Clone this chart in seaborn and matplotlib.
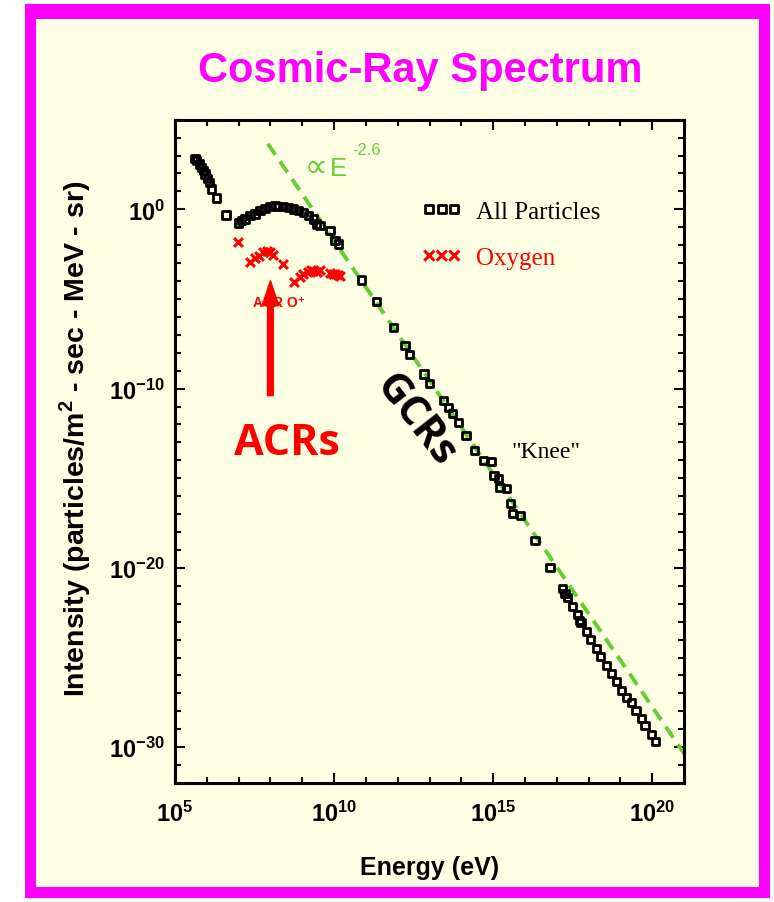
import numpy as np
import matplotlib
matplotlib.use("Agg")
import matplotlib.pyplot as plt
from matplotlib.patches import Rectangle
from matplotlib.ticker import FuncFormatter, NullFormatter
import seaborn as sns

# ---- data (log10 energy in eV, log10 intensity) ----
all_log_e = [5.629, 5.682, 5.764, 5.839, 5.890, 5.943, 6.015, 6.078, 6.154, 6.311,
             6.603,
             6.990, 7.097, 7.201, 7.358, 7.515, 7.672, 7.829, 7.986, 8.144, 8.247,
             8.405, 8.562, 8.719, 8.876, 9.033, 9.191, 9.348, 9.455, 9.558, 9.873,
             10.030, 10.134,
             10.869, 11.341, 11.863, 12.231, 12.366, 12.828, 12.995, 13.435, 13.592,
             13.730, 13.906, 14.148, 14.409, 14.692, 14.956, 15.028, 15.164, 15.217,
             15.428, 15.553, 15.616, 15.858, 16.317, 16.789, 17.188, 17.260, 17.333,
             17.502, 17.660, 17.710, 17.763, 17.943, 18.068, 18.257, 18.383, 18.571,
             18.729, 18.886, 19.043, 19.200, 19.357, 19.492, 19.671, 19.775, 19.986,
             20.105]
all_log_i = [2.847, 2.713, 2.529, 2.345, 2.156, 1.972, 1.732, 1.509, 1.135, 0.633,
             -0.315,
             -0.761, -0.633, -0.538, -0.354, -0.259, -0.075, 0.059, 0.170, 0.204, 0.170,
             0.170, 0.114, 0.020, -0.075, -0.164, -0.354, -0.538, -0.817, -0.912, -1.191,
             -1.748, -1.932,
             -3.940, -5.128, -6.578, -7.605, -8.095, -9.183, -9.702, -10.672, -11.040,
             -11.414, -11.877, -12.624, -13.461, -14.018, -14.074, -14.855, -15.039, -15.502,
             -15.580, -16.433, -16.991, -17.058, -18.480, -19.964, -21.174, -21.453, -21.637,
             -22.139, -22.624, -22.942, -23.031, -23.556, -24.002, -24.520, -24.950, -25.452,
             -25.915, -26.344, -26.846, -27.214, -27.532, -27.962, -28.386, -28.798, -29.317,
             -29.708]

oxy_log_e = [6.990, 7.358, 7.515, 7.650, 7.766, 7.883, 7.986, 8.090, 8.405, 8.741,
             8.930, 9.033, 9.191, 9.275, 9.348, 9.455, 9.558, 9.873, 9.967, 10.030,
             10.124, 10.187]
oxy_log_i = [-1.804, -2.953, -2.713, -2.585, -2.379, -2.306, -2.379, -2.529, -3.031, -4.068,
             -3.773, -3.606, -3.511, -3.410, -3.422, -3.477, -3.410, -3.550, -3.606, -3.606,
             -3.662, -3.700]

# power-law guide  I = 10**norm * E**slope
fit_slope = -2.6
fit_norm = 24.25
fit_log_e = [7.92, 21.5]

x_major = [5, 10, 15, 20]
y_major = [0, -10, -20, -30]

MAGENTA = "#FF00FF"
CREAM = "#FFFFE4"
GREEN = "#66CC33"

plt.rcParams["mathtext.fontset"] = "custom"
plt.rcParams["mathtext.rm"] = "Liberation Sans"
plt.rcParams["mathtext.bf"] = "Liberation Sans:bold"
plt.rcParams["font.family"] = ["Liberation Sans", "DejaVu Sans"]

W, H = 774, 903
fig = plt.figure(figsize=(W / 100, H / 100), dpi=100, facecolor="white")

# framed page
fig.patches.append(Rectangle((25 / W, 1 - 899 / H), 745 / W, 894 / H,
                             transform=fig.transFigure, facecolor=MAGENTA,
                             edgecolor="none", zorder=-10))
fig.patches.append(Rectangle((36 / W, 1 - 888 / H), 723 / W, 868 / H,
                             transform=fig.transFigure, facecolor=CREAM,
                             edgecolor="none", zorder=-9))

ax = fig.add_axes([175 / W, 1 - 784 / H, 509 / W, 663.3 / H])
ax.set_facecolor(CREAM)
ax.set_xscale("log")
ax.set_yscale("log")
ax.set_xlim(1e5, 1e21)
ax.set_ylim(1e-32, 1e5)

# E^-2.6 guide line
fe = np.array(fit_log_e)
ax.plot(10.0 ** fe, 10.0 ** (fit_norm + fit_slope * fe), color=GREEN, lw=2.8,
        dashes=(3.4, 2.1), zorder=2)

sns.scatterplot(x=10.0 ** np.array(all_log_e), y=10.0 ** np.array(all_log_i),
                marker="s", s=26, color="black", facecolor="none",
                edgecolor="black", linewidth=2.0, ax=ax, zorder=3,
                label="All Particles")
sns.scatterplot(x=10.0 ** np.array(oxy_log_e), y=10.0 ** np.array(oxy_log_i),
                marker="x", s=40, color="red", linewidth=2.2, ax=ax, zorder=3,
                label="Oxygen")

# axes styling
for sp in ax.spines.values():
    sp.set_linewidth(2.2)
    sp.set_color("black")
ax.set_xticks([10.0 ** v for v in x_major])
ax.set_xticks([10.0 ** v for v in range(5, 22)], minor=True)
ax.set_yticks([10.0 ** v for v in y_major])
ax.set_yticks([10.0 ** v for v in range(-32, 6)], minor=True)
fmt = FuncFormatter(lambda v, p: r"$\mathbf{10^{%d}}$" % round(np.log10(v)))
ax.xaxis.set_major_formatter(fmt)
ax.yaxis.set_major_formatter(fmt)
ax.xaxis.set_minor_formatter(NullFormatter())
ax.yaxis.set_minor_formatter(NullFormatter())
ax.tick_params(which="both", direction="in", top=True, right=True, width=1.5,
               color="black")
ax.tick_params(which="major", length=7.2, labelsize=17)
ax.tick_params(which="minor", length=4.3)
ax.tick_params(axis="x", pad=12.5)
ax.tick_params(axis="y", pad=7)

ax.set_xlabel("Energy (eV)", fontsize=18, fontweight="bold")
ax.set_ylabel(r"Intensity (particles/m$^\mathbf{2}$ - sec - MeV - sr)",
              fontsize=20.5, fontweight="bold")
ax.xaxis.set_label_coords(0.5, -0.1086)
ax.yaxis.set_label_coords(-0.162, 0.52)

fig.text(420 / W, 1 - 82 / H, "Cosmic-Ray Spectrum", color=MAGENTA,
         fontsize=30, fontweight="bold", ha="center", va="baseline")

# legend
handles = ax.collections[:2]
ax.legend(handles, ["All Particles", "Oxygen"], loc="upper left",
          bbox_to_anchor=(0.485, 0.878), frameon=False, scatterpoints=3,
          scatteryoffsets=[0.5], markerscale=1.15, handlelength=1.6,
          handletextpad=0.56, borderpad=0, borderaxespad=0, labelspacing=0.95,
          prop={"family": "Liberation Serif", "size": 18},
          labelcolor=["black", "red"])

# power-law label
ax.text(10 ** 9.087, 10 ** 1.85, "\u221d", color=GREEN, fontsize=23,
        ha="left", va="baseline", family="DejaVu Sans")
ax.text(10 ** 9.873, 10 ** 1.916, "E", color=GREEN, fontsize=18.5,
        ha="left", va="baseline")
ax.text(10 ** 10.58, 10 ** 3.087, "-2.6", color=GREEN, fontsize=12,
        ha="left", va="baseline")

# anomalous / galactic component labels
ax.text(10 ** 7.452, 10 ** -5.374, "ACR O\u207a", color="red", fontsize=10,
        fontweight="bold", ha="left", va="baseline", zorder=4,
        family=["Liberation Sans", "DejaVu Sans"])
ax.annotate("", xy=(1e8, 10 ** -3.98), xytext=(1e8, 10 ** -10.39),
            arrowprops=dict(arrowstyle="simple,head_length=1.8,head_width=1.2,tail_width=0.42",
                            color="red", shrinkA=0, shrinkB=0, mutation_scale=10),
            zorder=5)
ax.text(10 ** 8.511, 10 ** -13.645, "ACRs", color="red", fontsize=31,
        fontweight="bold", family="Open Sans", ha="center", va="baseline")
ax.text(10 ** 12.545, 10 ** -11.75, "GCRs", color="black", fontsize=30,
        fontweight="bold", family="Open Sans", ha="center", va="center",
        rotation=-52, rotation_mode="anchor")
ax.text(10 ** 15.585, 10 ** -13.81, "\"Knee\"", color="black", fontsize=17,
        family="Liberation Serif", ha="left", va="baseline")

fig.savefig("out.png", dpi=100, facecolor="white")
